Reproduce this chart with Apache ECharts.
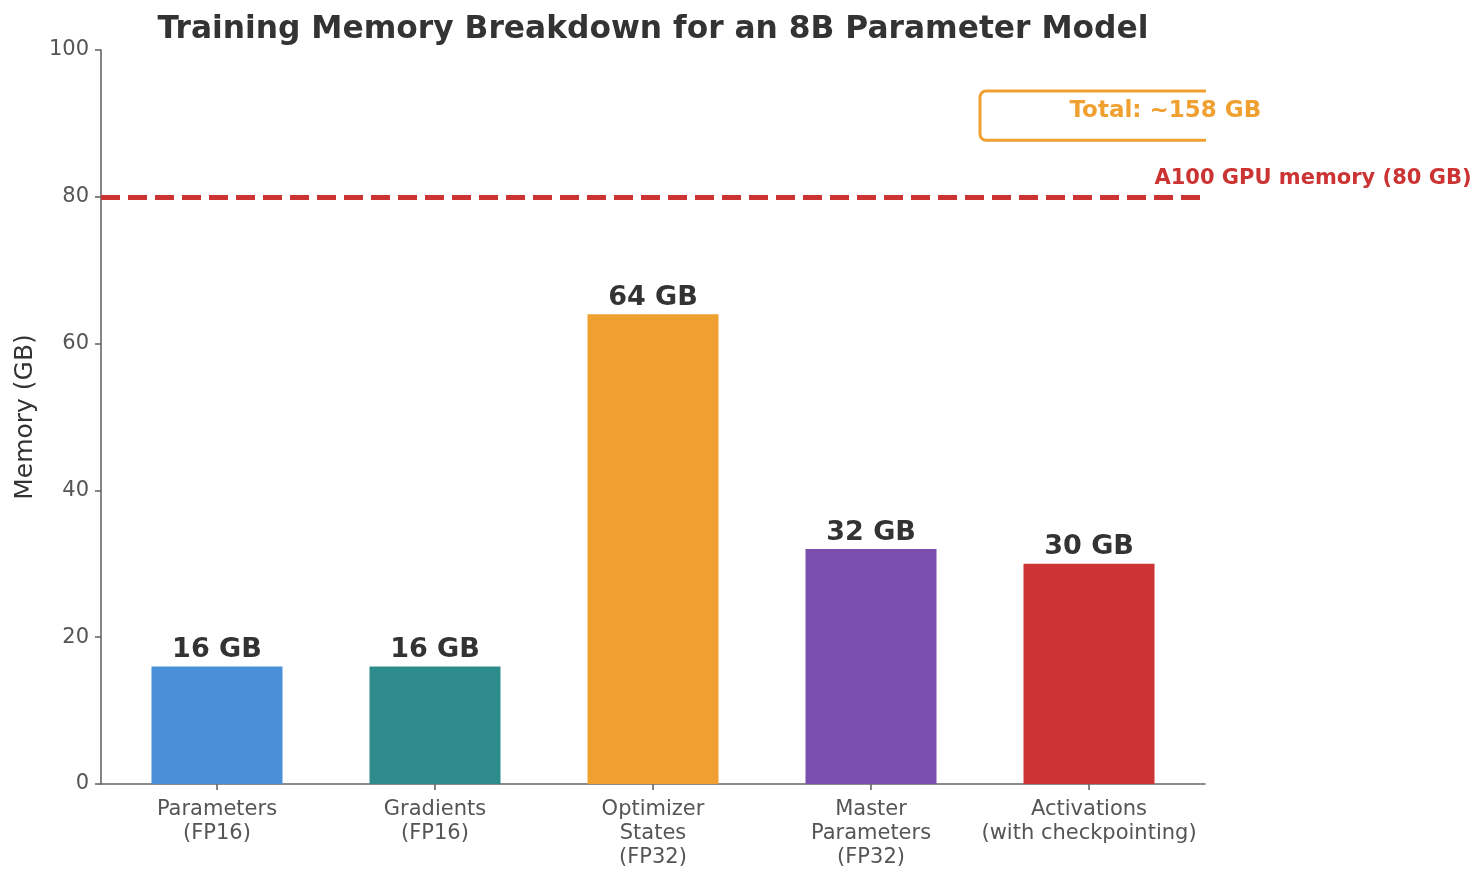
<!DOCTYPE html>
<html>
<head>
<meta charset="utf-8">
<script src="https://cdn.jsdelivr.net/npm/echarts@6/dist/echarts.min.js"></script>
<style>
  html, body { margin: 0; padding: 0; background: #fff; }
  #chart { width: 1484px; height: 880px; }
</style>
</head>
<body>
<div id="chart"></div>
<script>
const categories = ["Parameters\n(FP16)", "Gradients\n(FP16)", "Optimizer\nStates\n(FP32)", "Master\nParameters\n(FP32)", "Activations\n(with checkpointing)"];
const memoryGB = [16, 16, 64, 32, 30];
const barColors = ["#4A90D9", "#2E8B8B", "#F0A030", "#7B4FAE", "#CC3333"];
const yTicks = [0, 20, 40, 60, 80, 100];
const gpuLimit = 80;
const gpuLabel = "A100 GPU memory (80 GB)";
const totalLabel = "Total: ~158 GB";

const font = "DejaVu Sans";
const chart = echarts.init(document.getElementById("chart"));

const option = {
  animation: false,
  title: {
    text: "Training Memory Breakdown for an 8B Parameter Model",
    left: 648,
    top: 9,
    textAlign: "center",
    textStyle: { fontFamily: font, fontSize: 31.3, fontWeight: "bold", color: "#333" }
  },
  grid: { left: 101, right: 279, top: 50, bottom: 96 },
  xAxis: {
    type: "value",
    min: -0.532,
    max: 4.532,
    splitLine: { show: false },
    axisLine: { onZero: false, lineStyle: { color: "#666", width: 1.6 } },
    axisTick: { show: true, customValues: [0, 1, 2, 3, 4], length: 6, lineStyle: { color: "#666", width: 1.6 } },
    axisLabel: {
      customValues: [0, 1, 2, 3, 4],
      formatter: v => categories[Math.round(v)],
      margin: 14,
      fontFamily: font, fontSize: 21, lineHeight: 24, color: "#555"
    }
  },
  yAxis: {
    type: "value",
    min: 0,
    max: 100,
    interval: 20,
    name: "Memory (GB)",
    nameLocation: "middle",
    nameGap: 62,
    nameTextStyle: { fontFamily: font, fontSize: 25, color: "#333" },
    splitLine: { show: false },
    axisLine: { show: true, onZero: false, lineStyle: { color: "#666", width: 1.6 } },
    axisTick: { show: true, length: 6, lineStyle: { color: "#666", width: 1.6 } },
    axisLabel: {
      margin: 12,
      formatter: v => yTicks.includes(v) ? String(v) : "",
      fontFamily: font, fontSize: 21, color: "#555"
    }
  },
  series: [{
    type: "bar",
    barWidth: 131,
    data: memoryGB.map((v, i) => ({ value: [i, v], itemStyle: { color: barColors[i] } })),
    label: {
      show: true,
      position: "top",
      distance: 3,
      formatter: p => p.value[1] + " GB",
      fontFamily: font, fontSize: 27, fontWeight: "bold", color: "#333"
    },
    markLine: {
      silent: true,
      symbol: "none",
      label: { show: false },
      lineStyle: { color: "#CC3333", width: 5, type: [19, 8] },
      data: [{ yAxis: gpuLimit }]
    }
  }]
};

chart.setOption(option);

// annotations placed in data coordinates
const px = (x, y) => chart.convertToPixel({ gridIndex: 0 }, [x, y]);
const gpuPos = px(4.3, 82.5);
const boxTL = px(3.5, 94.4);
const boxBR = px(5.2, 87.7);
const axisRight = px(4.532, 0)[0];
const totalPos = px(4.35, 91.7);

chart.setOption({
  graphic: [
    {
      type: "rect",
      shape: { x: boxTL[0], y: boxTL[1], width: boxBR[0] - boxTL[0], height: boxBR[1] - boxTL[1], r: 6 },
      style: { fill: null, stroke: "#F0A030", lineWidth: 3 }
    },
    {
      // box is clipped at the right edge of the plot area
      type: "rect",
      shape: { x: axisRight + 1, y: boxTL[1] - 6, width: 200, height: boxBR[1] - boxTL[1] + 12 },
      style: { fill: "#fff" }
    },
    {
      type: "text",
      x: totalPos[0], y: totalPos[1],
      style: {
        text: totalLabel, align: "center", verticalAlign: "middle",
        font: `bold 23px '${font}'`, fill: "#F0A030"
      }
    },
    {
      type: "text",
      x: gpuPos[0], y: gpuPos[1],
      style: {
        text: gpuLabel, align: "left", verticalAlign: "middle",
        font: `bold 21px '${font}'`, fill: "#CC3333"
      }
    }
  ]
});

window.addEventListener("resize", () => chart.resize());
</script>
</body>
</html>
